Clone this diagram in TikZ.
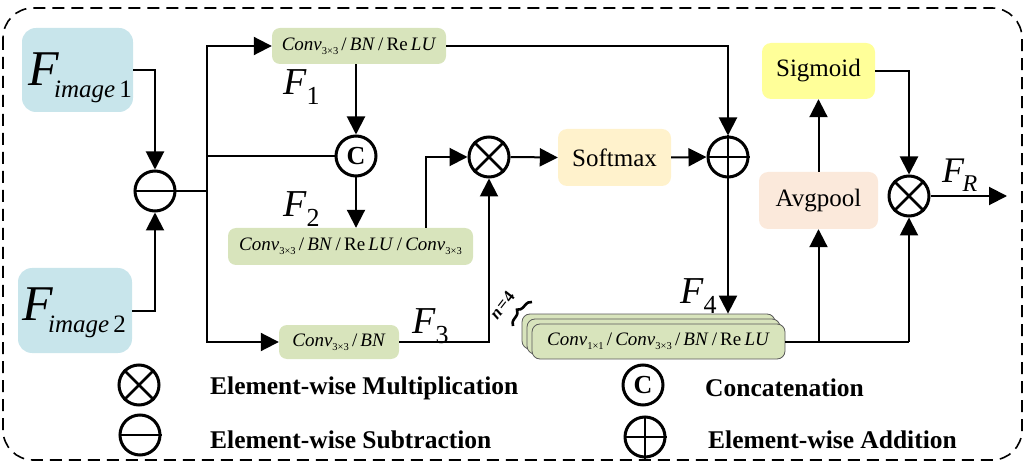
\documentclass[tikz,border=0pt]{standalone}
\usepackage{fontspec}
\setmainfont{Liberation Serif}
\usetikzlibrary{arrows.meta,calc,decorations.pathreplacing}
\definecolor{bblue}{HTML}{C8E5EB}
\definecolor{bgreen}{HTML}{D8E4BC}
\definecolor{bsoft}{HTML}{FFF2CC}
\definecolor{bavg}{HTML}{FBE9DB}
\definecolor{bsig}{HTML}{FFFF99}
\newcommand\fs[1]{\fontsize{#1}{#1}\selectfont}
\newcommand\cvv[1]{\textit{Conv}{\fs{10.5}\raisebox{-4pt}{#1}}}
\newcommand\sla{\,/\,}
\newcommand\rlu{Re\,\textit{LU}}
\newcommand\Flab[5]{{\fs{#2}\textit{F}}\kern#5pt{\fs{#3}\raisebox{-#4pt}{#1}}}
\begin{document}
\begin{tikzpicture}[x=1pt,y=-1pt,
  ln/.style={line width=2pt},
  arr/.style={line width=2pt,-{Triangle[length=18pt,width=18pt]}},
  opc/.style={circle,draw,line width=3pt,minimum size=40pt,inner sep=0pt},
  gbox/.style={rounded corners=8pt,fill=bgreen,inner sep=0pt,font=\fs{19}},
  sbox/.style={rounded corners=9pt,inner sep=0pt,minimum width=113pt,minimum height=57pt,font=\fs{25}},
  ibox/.style={rounded corners=14pt,fill=bblue,inner sep=0pt},
  lgt/.style={anchor=west,font=\fs{25.5}\bfseries,inner sep=0pt},
  flab/.style={anchor=base west,inner sep=0pt}]
\useasboundingbox (0,0) rectangle (1025,470);
\draw[line width=1.6pt,dash pattern=on 12pt off 7pt,rounded corners=30pt] (3,8) rectangle (1022,460);

% input boxes
\node[ibox,minimum width=111pt,minimum height=84pt] (fi1) at (77.5,70) {};
\node[flab] (fi1t) at (28,86) {\Flab{\textit{image}\,1}{50}{25}{12}{-5}};
\node[ibox,minimum width=114pt,minimum height=85pt] (fi2) at (75,310.5) {};
\node[flab] (fi2t) at (22,320) {\Flab{\textit{image}\,2}{50}{25}{12}{-5}};

% op circles
\node[opc] (sub) at (155,191) {};
\draw[ln] (sub.west) -- (sub.east);
\node[opc,font=\fs{26}\bfseries] (cc) at (356,156) {C};
\node[opc] (m1) at (489,157) {};
\draw[line width=2.5pt] (m1.north west) -- (m1.south east) (m1.north east) -- (m1.south west);
\node[opc] (pl) at (728,157) {};
\draw[line width=2.5pt] (pl.north) -- (pl.south) (pl.west) -- (pl.east);
\node[opc] (m2) at (909,196) {};
\draw[line width=2.5pt] (m2.north west) -- (m2.south east) (m2.north east) -- (m2.south west);

% boxes
\node[gbox,minimum width=174pt,minimum height=36pt] (b1) at (359,46) {\cvv{3×3}\sla\textit{BN}\sla\rlu};
\node[gbox,minimum width=245pt,minimum height=37pt] (b2) at (350.5,246.5) {\cvv{3×3}\sla\textit{BN}\sla\rlu\sla\cvv{3×3}};
\node[gbox,minimum width=120pt,minimum height=34pt] (b3) at (339,342) {\cvv{3×3}\sla\textit{BN}};
\node[gbox,draw=black!65,line width=0.8pt,minimum width=253pt,minimum height=35pt] (b4c) at (648.5,331.5) {};
\node[gbox,draw=black!65,line width=0.8pt,minimum width=253pt,minimum height=35pt] (b4b) at (653.5,336.5) {};
\node[gbox,draw=black!65,line width=0.8pt,minimum width=253pt,minimum height=35pt] (b4) at (658.5,341.5) {\cvv{1×1}\sla\cvv{3×3}\sla\textit{BN}\sla\rlu};
\node[sbox,fill=bsoft] (sm) at (614.5,157.5) {Softmax};
\node[sbox,fill=bavg,minimum width=119pt] (av) at (818.5,200.5) {Avgpool};
\node[sbox,fill=bsig,minimum height=56pt] (sg) at (818.5,71) {Sigmoid};

% n=4 bracket
\node[rotate=52,inner sep=0pt,font=\fs{17}\bfseries] (nn) at (502,305) {\textit{n}\kern1pt=\kern1pt4};
\coordinate (bra) at (513,326);
\coordinate (brb) at (532,302);
\draw[line width=2.6pt,decorate,decoration={brace,amplitude=7pt}] (bra) -- (brb);

% labels
\node[flab] (lf1) at (283,95) {\Flab{1}{38}{26}{10}{0}};
\node[flab] (lf2) at (283,217) {\Flab{2}{38}{26}{10}{0}};
\node[flab] (lf3) at (412,333) {\Flab{3}{38}{26}{10}{0}};
\node[flab] (lf4) at (680,303) {\Flab{4}{38}{26}{10}{0}};
\node[flab] (lfr) at (942,183) {\Flab{\textit{R}}{36}{24}{9}{-2}};

% connectors
\draw[arr] (fi1.east) -| (sub.north);
\draw[arr] (fi2.east) -| (sub.south);
\coordinate (j) at (207,191);
\draw[ln] (sub.east) -- (j);
\draw[arr] (j) |- (b1.west);
\draw[arr] (j) |- (b3.west);
\draw[ln] (cc.west) -- (cc.west -| j);
\draw[arr] (cc |- b1.south) -- (cc.north);
\draw[arr] (cc.south) -- (cc |- b2.north);
\draw[arr] ([xshift=75.5pt]b2.north) |- (m1.west);
\draw[arr] (b3.east) -| (m1.south);
\draw[arr] (m1.east) -- (sm.west);
\draw[arr] (sm.east) -- (pl.west);
\draw[arr] (b1.east) -| (pl.north);
\draw[arr] (pl.south) -- (pl |- b4c.north);
\coordinate (k) at (b4.east -| m2);
\draw[ln] (b4.east) -- (k);
\draw[arr] (k) -- (m2.south);
\draw[arr] (b4.east -| av) -- (av.south);
\draw[arr] (av.north) -- (sg.south);
\draw[arr] (sg.east) -| (m2.north);
\coordinate (out) at (1007,196);
\draw[arr] (m2.east) -- (out);

% legend
\node[opc] (lm) at (139,385) {};
\draw[line width=2.5pt] (lm.north west) -- (lm.south east) (lm.north east) -- (lm.south west);
\node[lgt] (lmt) at (210,388) {Element-wise Multiplication};
\node[opc] (ls) at (140,435) {};
\draw[ln] (ls.west) -- (ls.east);
\node[lgt] (lst) at (210,440) {Element-wise Subtraction};
\node[opc,font=\fs{26}\bfseries] (lc) at (643,385) {C};
\node[lgt] (lct) at (705,388) {Concatenation};
\node[opc] (lp) at (645,437) {};
\draw[line width=2.5pt] (lp.north) -- (lp.south) (lp.west) -- (lp.east);
\node[lgt] (lpt) at (708,440) {Element-wise Addition};
\end{tikzpicture}
\end{document}
